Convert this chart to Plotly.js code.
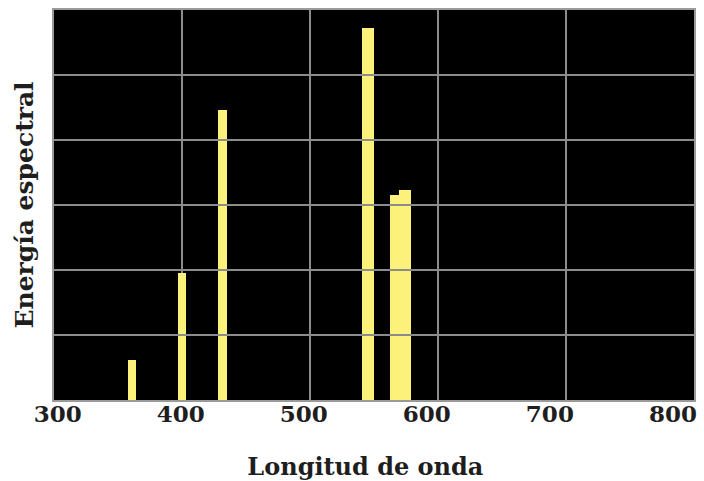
<!DOCTYPE html>
<html>
<head>
<meta charset="utf-8">
<script src="https://cdn.plot.ly/plotly-3.0.1.min.js"></script>
<style>html,body{margin:0;padding:0;background:#fff;}#chart{width:704px;height:481px;}</style>
</head>
<body>
<div id="chart"></div>
<script>
// Spectral lines (wavelength in nm) and relative spectral energy
const wavelengths = [361, 400, 432, 545, 566, 574];
const energies = [0.62, 1.96, 4.46, 5.72, 3.15, 3.23];
const xTickValues = [300, 400, 500, 600, 700, 800];
const xTickLabels = ['300', '400', '500', '600', '700', '800'];
const xTitle = 'Longitud de onda';
const yTitle = 'Energía espectral';

const bars = {
  type: 'bar',
  x: wavelengths,
  y: energies,
  width: [6.8, 6.5, 7, 9.5, 7, 9.5],
  marker: {color: '#fcf27b', line: {width: 0}},
  hoverinfo: 'x+y'
};

// empty trace so the label axis (slightly compressed, as in the original figure) is drawn
const labelAxisTrace = {type: 'scatter', x: [], y: [], xaxis: 'x2', yaxis: 'y', hoverinfo: 'skip', showlegend: false};

const fontFamily = '"DejaVu Serif", "Liberation Serif", serif';
const textColor = '#1e1e1e';

const layout = {
  width: 704,
  height: 481,
  margin: {l: 54, r: 10, t: 10, b: 81, autoexpand: false},
  paper_bgcolor: '#ffffff',
  plot_bgcolor: 'rgba(0,0,0,0)',
  showlegend: false,
  bargap: 0,
  shapes: [{
    type: 'rect', xref: 'x domain', yref: 'y domain',
    x0: 0, x1: 1, y0: 0, y1: 1,
    fillcolor: '#000000', line: {width: 0}, layer: 'below'
  }],
  xaxis: {
    range: [300, 800],
    tickvals: xTickValues,
    showticklabels: false,
    showgrid: true,
    gridcolor: '#8c8c8c',
    gridwidth: 2,
    zeroline: false,
    showline: true,
    mirror: true,
    linecolor: '#9a9a9a',
    linewidth: 2,
    ticks: '',
    automargin: false
  },
  xaxis2: {
    anchor: 'y',
    side: 'bottom',
    domain: [0.006, 0.967],
    range: [300, 800],
    tickvals: xTickValues,
    ticktext: xTickLabels,
    showgrid: false,
    zeroline: false,
    showline: false,
    ticks: '',
    automargin: true,
    ticklabeloverflow: 'allow',
    ticklabelstandoff: -2,
    tickfont: {family: fontFamily, size: 23, color: textColor, weight: 'bold'},
    title: {text: xTitle, font: {family: fontFamily, size: 24, color: textColor, weight: 'bold'}, standoff: 34}
  },
  yaxis: {
    range: [0, 6],
    dtick: 1,
    showticklabels: false,
    showgrid: true,
    gridcolor: '#8c8c8c',
    gridwidth: 2,
    zeroline: false,
    showline: true,
    mirror: true,
    linecolor: '#9a9a9a',
    linewidth: 2,
    ticks: '',
    automargin: false,
    title: {text: yTitle, font: {family: fontFamily, size: 25, color: textColor, weight: 'bold'}, standoff: 11}
  }
};

Plotly.newPlot('chart', [bars, labelAxisTrace], layout, {displayModeBar: false, staticPlot: true});
</script>
</body>
</html>
